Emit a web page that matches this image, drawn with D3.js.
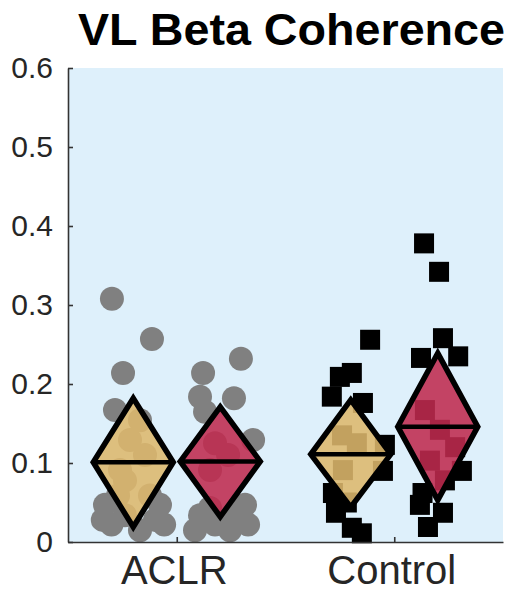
<!DOCTYPE html>
<html>
<head>
<meta charset="utf-8">
<script src="https://cdn.jsdelivr.net/npm/d3@7"></script>
<style>
  body { margin: 0; background: #fff; }
  svg { display: block; font-family: "Liberation Sans", Arial, sans-serif; }
</style>
</head>
<body>
<figure id="chart" style="margin:0"></figure>
<script>
// groups on the x axis and the two conditions drawn for each
const groups = ["ACLR", "Control"];
const conditions = ["cond1", "cond2"];
const yTicks = [0, 0.1, 0.2, 0.3, 0.4, 0.5, 0.6];

// diamond summaries per group: [cond1, cond2]
const means = { ACLR: [0.101, 0.102], Control: [0.111, 0.146] };
const upper = { ACLR: [0.182, 0.171], Control: [0.180, 0.239] };
const lower = { ACLR: [0.019, 0.032], Control: [0.044, 0.053] };

// individual values and their horizontal jitter (x units from group tick)
const aclr1 = [0.308, 0.257, 0.214, 0.167, 0.154, 0.129, 0.110, 0.091, 0.078,
               0.059, 0.059, 0.047, 0.047, 0.034, 0.028, 0.028, 0.022, 0.022, 0.015];
const aclr1Jit = [-0.298, -0.114, -0.247, -0.284, -0.169, -0.215, -0.146, -0.261, -0.238,
                  -0.123, -0.270, -0.330, -0.077, -0.238, -0.340, -0.100, -0.300, -0.058, -0.169];
const aclr2 = [0.232, 0.214, 0.184, 0.182, 0.165, 0.129, 0.125, 0.110, 0.091,
               0.047, 0.043, 0.034, 0.034, 0.022, 0.022, 0.015, 0.015];
const aclr2Jit = [0.295, 0.121, 0.107, 0.263, 0.130, 0.351, 0.176, 0.236, 0.153,
                  0.314, 0.153, 0.107, 0.268, 0.176, 0.328, 0.084, 0.245];
const ctrl1 = [0.256, 0.214, 0.209, 0.184, 0.176, 0.135, 0.123, 0.125, 0.091, 0.090,
               0.062, 0.050, 0.037, 0.018, 0.011];
const ctrl1Jit = [-0.111, -0.195, -0.250, -0.287, -0.144, -0.240, -0.043, -0.172, -0.236, -0.052,
                  -0.282, -0.218, -0.268, -0.195, -0.149];
const ctrl2 = [0.378, 0.342, 0.258, 0.235, 0.233, 0.167, 0.142, 0.120, 0.103, 0.090, 0.078,
               0.062, 0.047, 0.037, 0.019];
const ctrl2Jit = [0.137, 0.206, 0.224, 0.294, 0.123, 0.141, 0.210, 0.280, 0.164, 0.311, 0.233,
                  0.130, 0.118, 0.224, 0.155];

const points = [
  { group: "ACLR", values: aclr1, jitter: aclr1Jit },
  { group: "ACLR", values: aclr2, jitter: aclr2Jit },
  { group: "Control", values: ctrl1, jitter: ctrl1Jit },
  { group: "Control", values: ctrl2, jitter: ctrl2Jit }
];

const width = 520, height = 594;
const margin = { top: 68, right: 17, bottom: 52, left: 68 };
const diamondOffset = 0.2;   // x units from group tick
const diamondHalf = 0.184;   // x units half-width
const fills = ["#ddb76c", "#bf2a4e"];

const svg = d3.select("figure#chart")
  .append("svg")
  .attr("width", width)
  .attr("height", height);

const x = d3.scaleLinear()
  .domain([0.5, 2.5])
  .range([margin.left, width - margin.right]);
const y = d3.scaleLinear()
  .domain([0, 0.6])
  .range([height - margin.bottom, margin.top]);
const gx = g => groups.indexOf(g) + 1;

// plot background
svg.append("rect")
  .attr("x", x(0.5)).attr("y", y(0.6))
  .attr("width", x(2.5) - x(0.5))
  .attr("height", y(0) - y(0.6))
  .attr("fill", "#def0fb");

// points
const pts = svg.append("g");
points.forEach(s => {
  const data = s.values.map((v, i) => ({ v, j: s.jitter[i], g: s.group }));
  if (s.group === "ACLR") {
    pts.selectAll(null).data(data).enter()
      .append("circle")
      .attr("cx", d => x(gx(d.g) + d.j))
      .attr("cy", d => y(d.v))
      .attr("r", 12)
      .attr("fill", "#808080");
  } else {
    pts.selectAll(null).data(data).enter()
      .append("rect")
      .attr("x", d => x(gx(d.g) + d.j) - 10)
      .attr("y", d => y(d.v) - 10)
      .attr("width", 20)
      .attr("height", 20)
      .attr("fill", "#000");
  }
});

// diamonds
const dia = svg.append("g");
groups.forEach(g => {
  conditions.forEach((c, k) => {
    const cx = gx(g) + (k === 0 ? -diamondOffset : diamondOffset);
    const m = means[g][k], hi = upper[g][k], lo = lower[g][k];
    const path = [
      [x(cx), y(hi)],
      [x(cx + diamondHalf), y(m)],
      [x(cx), y(lo)],
      [x(cx - diamondHalf), y(m)]
    ];
    dia.append("path")
      .attr("d", d3.line()(path) + "Z")
      .attr("fill", fills[k])
      .attr("fill-opacity", 0.88)
      .attr("stroke", "#000")
      .attr("stroke-width", 5.5)
      .attr("stroke-linejoin", "miter");
    dia.append("line")
      .attr("x1", x(cx - diamondHalf)).attr("x2", x(cx + diamondHalf))
      .attr("y1", y(m)).attr("y2", y(m))
      .attr("stroke", "#000")
      .attr("stroke-width", 4.5);
  });
});

// y axis
svg.append("g")
  .attr("transform", "translate(" + x(0.5) + ",0)")
  .call(d3.axisLeft(y).tickValues(yTicks).tickFormat(d => d === 0 ? "0" : d3.format(".1f")(d))
    .tickSizeInner(-5).tickSizeOuter(0).tickPadding(15))
  .call(g => g.selectAll("path, line").attr("stroke", "#333").attr("stroke-width", 1.6))
  .call(g => g.selectAll("text").attr("font-size", 30).attr("fill", "#262626")
    .attr("font-family", "Liberation Sans, Arial, sans-serif"));

// x axis
svg.append("g")
  .attr("transform", "translate(0," + y(0) + ")")
  .call(d3.axisBottom(x).tickValues([1, 2]).tickFormat(d => groups[d - 1])
    .tickSizeInner(-5).tickSizeOuter(0).tickPadding(14))
  .call(g => g.selectAll("path, line").attr("stroke", "#333").attr("stroke-width", 1.6))
  .call(g => g.selectAll("text").attr("font-size", 40).attr("fill", "#262626")
    .attr("dx", -3)
    .attr("font-family", "Liberation Sans, Arial, sans-serif"));

// title
svg.append("text")
  .attr("x", 291.5)
  .attr("y", 45)
  .attr("text-anchor", "middle")
  .attr("font-size", 44)
  .attr("font-weight", "bold")
  .attr("textLength", 427)
  .attr("lengthAdjust", "spacingAndGlyphs")
  .attr("fill", "#000")
  .text("VL Beta Coherence");
</script>
</body>
</html>
